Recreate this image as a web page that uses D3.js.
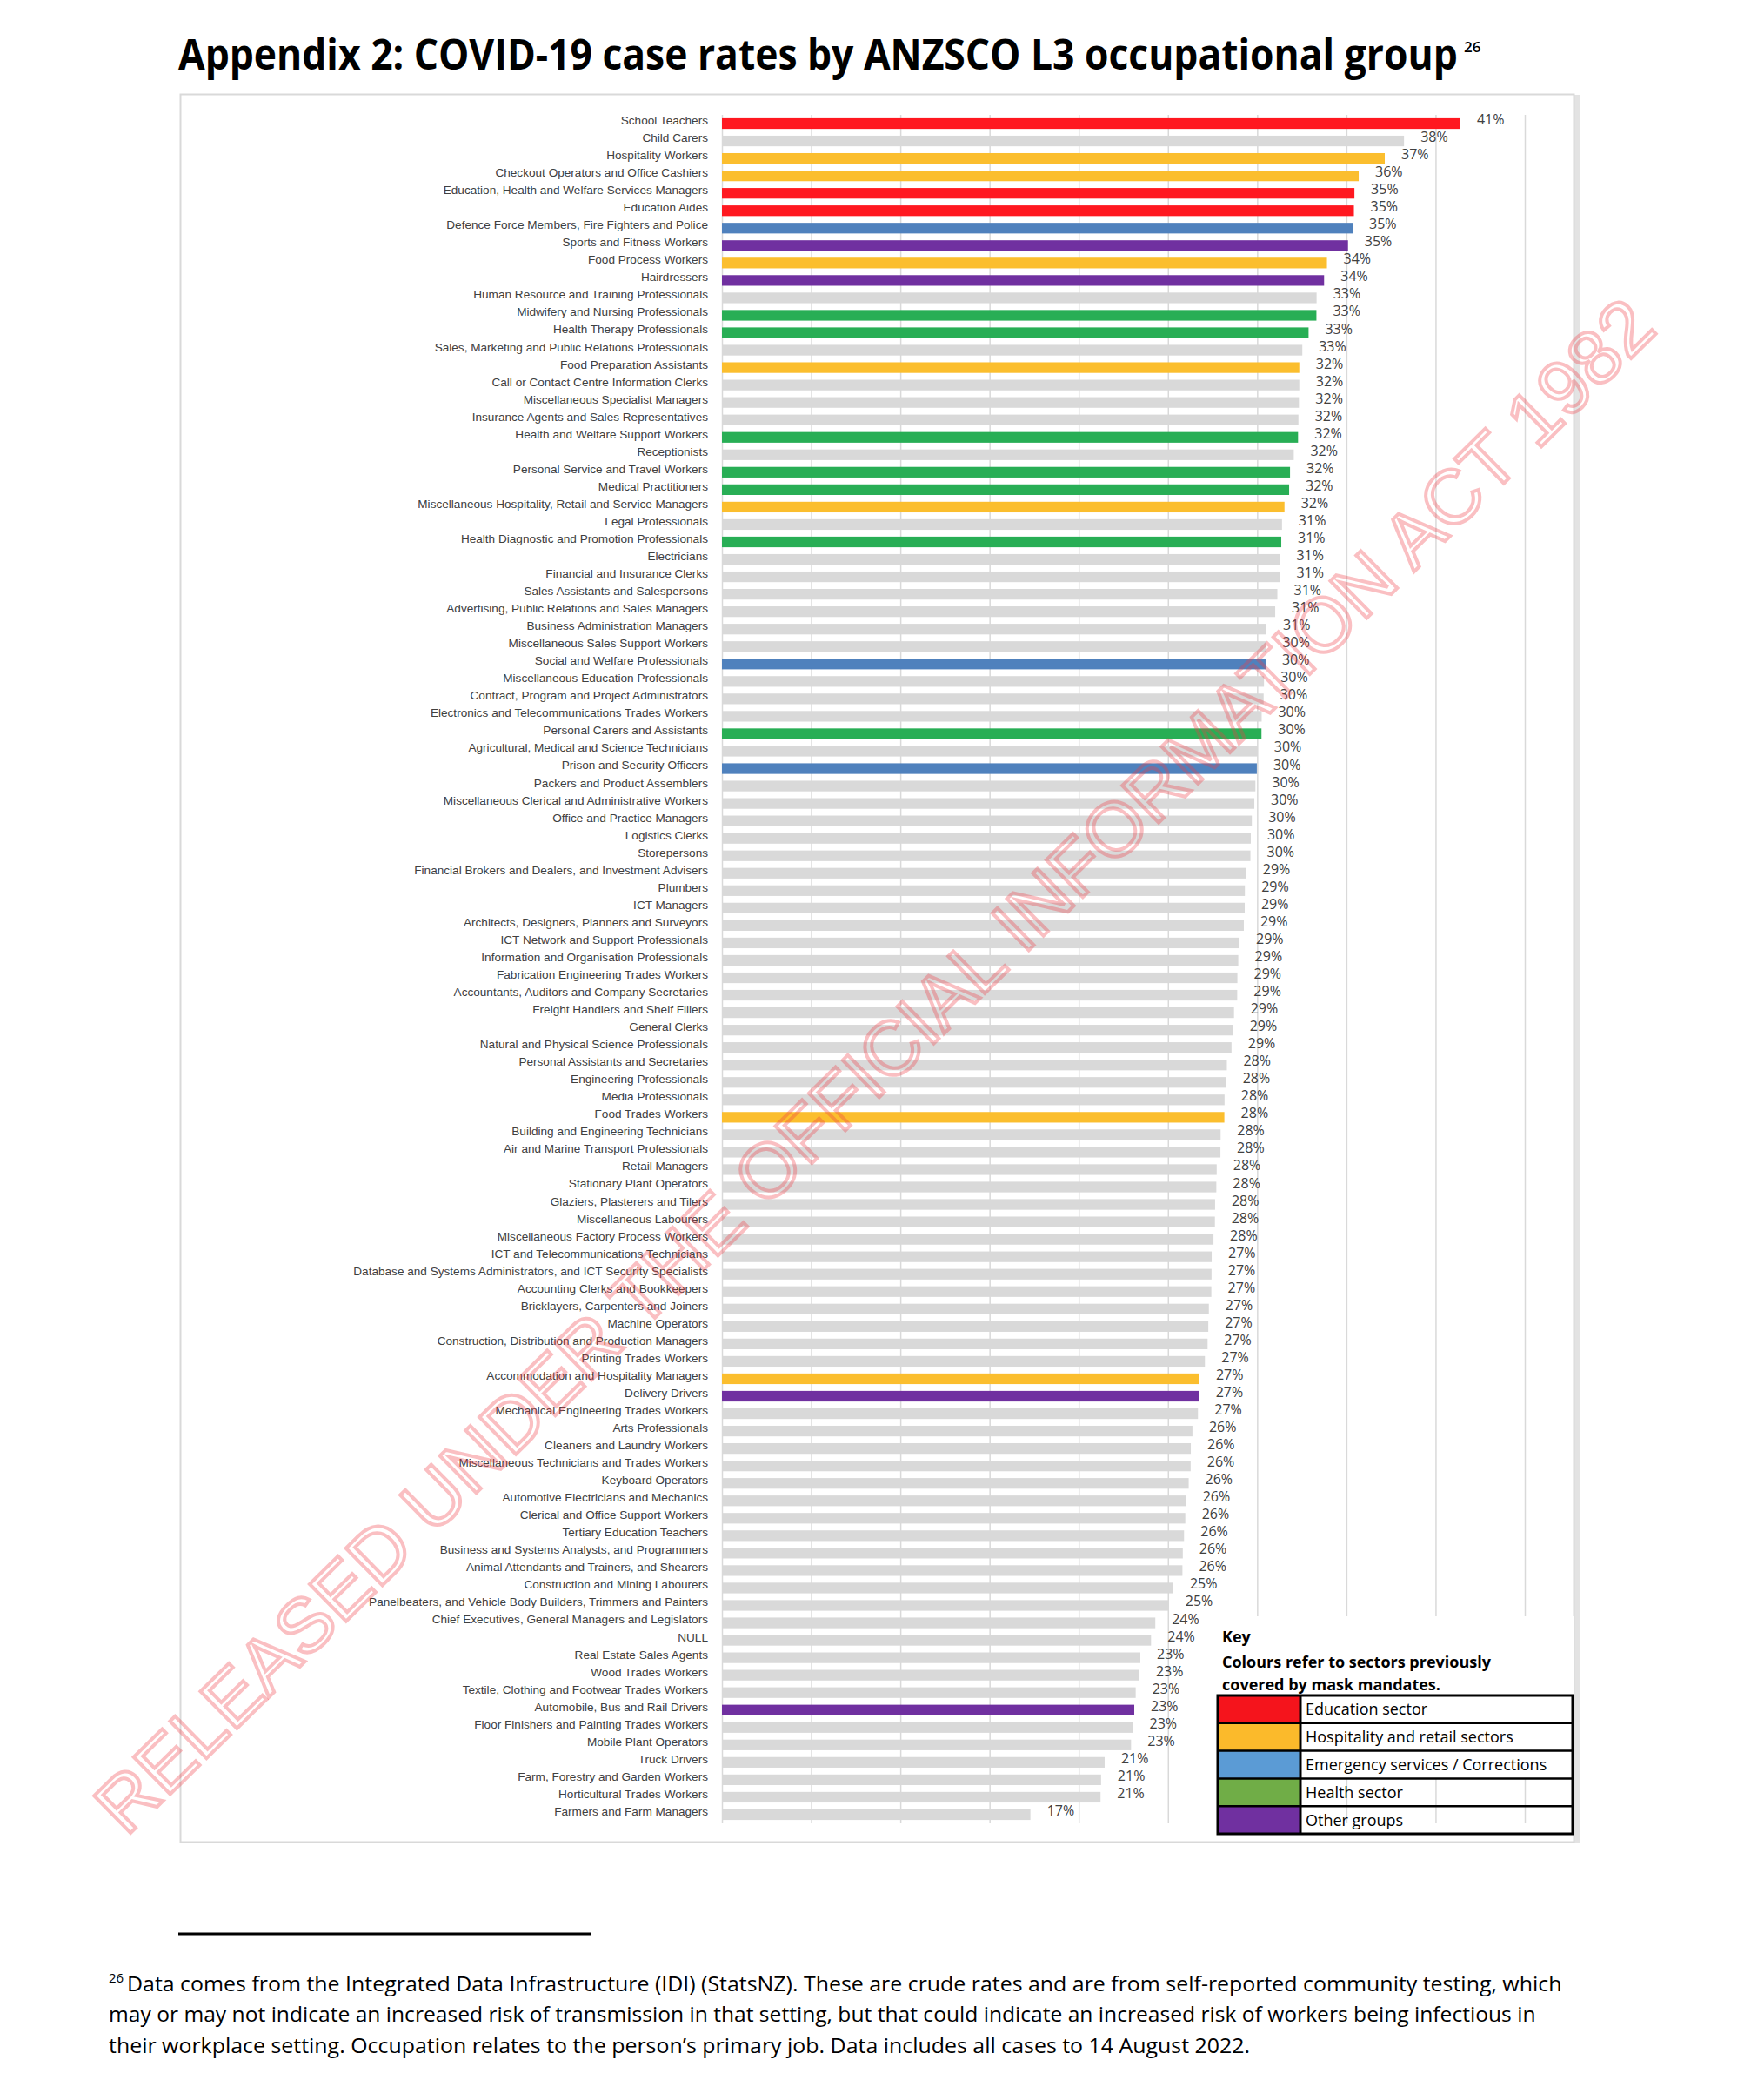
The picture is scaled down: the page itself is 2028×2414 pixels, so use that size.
<!DOCTYPE html>
<html><head><meta charset="utf-8">
<script src="https://cdn.jsdelivr.net/npm/d3@7"></script>
<style>body{margin:0;background:#fff;} svg{display:block}</style>
</head><body>
<svg id="chart" width="2028" height="2414"></svg>
<script>
const categories = [
"School Teachers","Child Carers","Hospitality Workers","Checkout Operators and Office Cashiers",
"Education, Health and Welfare Services Managers","Education Aides","Defence Force Members, Fire Fighters and Police",
"Sports and Fitness Workers","Food Process Workers","Hairdressers","Human Resource and Training Professionals",
"Midwifery and Nursing Professionals","Health Therapy Professionals","Sales, Marketing and Public Relations Professionals",
"Food Preparation Assistants","Call or Contact Centre Information Clerks","Miscellaneous Specialist Managers",
"Insurance Agents and Sales Representatives","Health and Welfare Support Workers","Receptionists",
"Personal Service and Travel Workers","Medical Practitioners","Miscellaneous Hospitality, Retail and Service Managers",
"Legal Professionals","Health Diagnostic and Promotion Professionals","Electricians","Financial and Insurance Clerks",
"Sales Assistants and Salespersons","Advertising, Public Relations and Sales Managers","Business Administration Managers",
"Miscellaneous Sales Support Workers","Social and Welfare Professionals","Miscellaneous Education Professionals",
"Contract, Program and Project Administrators","Electronics and Telecommunications Trades Workers",
"Personal Carers and Assistants","Agricultural, Medical and Science Technicians","Prison and Security Officers",
"Packers and Product Assemblers","Miscellaneous Clerical and Administrative Workers","Office and Practice Managers",
"Logistics Clerks","Storepersons","Financial Brokers and Dealers, and Investment Advisers","Plumbers","ICT Managers",
"Architects, Designers, Planners and Surveyors","ICT Network and Support Professionals",
"Information and Organisation Professionals","Fabrication Engineering Trades Workers",
"Accountants, Auditors and Company Secretaries","Freight Handlers and Shelf Fillers","General Clerks",
"Natural and Physical Science Professionals","Personal Assistants and Secretaries","Engineering Professionals",
"Media Professionals","Food Trades Workers","Building and Engineering Technicians","Air and Marine Transport Professionals",
"Retail Managers","Stationary Plant Operators","Glaziers, Plasterers and Tilers","Miscellaneous Labourers",
"Miscellaneous Factory Process Workers","ICT and Telecommunications Technicians",
"Database and Systems Administrators, and ICT Security Specialists","Accounting Clerks and Bookkeepers",
"Bricklayers, Carpenters and Joiners","Machine Operators","Construction, Distribution and Production Managers",
"Printing Trades Workers","Accommodation and Hospitality Managers","Delivery Drivers",
"Mechanical Engineering Trades Workers","Arts Professionals","Cleaners and Laundry Workers",
"Miscellaneous Technicians and Trades Workers","Keyboard Operators","Automotive Electricians and Mechanics",
"Clerical and Office Support Workers","Tertiary Education Teachers","Business and Systems Analysts, and Programmers",
"Animal Attendants and Trainers, and Shearers","Construction and Mining Labourers",
"Panelbeaters, and Vehicle Body Builders, Trimmers and Painters","Chief Executives, General Managers and Legislators",
"NULL","Real Estate Sales Agents","Wood Trades Workers","Textile, Clothing and Footwear Trades Workers",
"Automobile, Bus and Rail Drivers","Floor Finishers and Painting Trades Workers","Mobile Plant Operators",
"Truck Drivers","Farm, Forestry and Garden Workers","Horticultural Trades Workers","Farmers and Farm Managers"
];

const values = [
41.39, 38.23, 37.15, 35.69, 35.45, 35.42, 35.35, 35.09, 33.91, 33.75,
33.33, 33.32, 32.88, 32.53, 32.36, 32.36, 32.34, 32.31, 32.29, 32.05,
31.84, 31.79, 31.53, 31.39, 31.35, 31.27, 31.27, 31.13, 31.01, 30.52,
30.49, 30.47, 30.38, 30.36, 30.25, 30.24, 30.02, 29.98, 29.90, 29.84,
29.70, 29.64, 29.62, 29.39, 29.31, 29.30, 29.25, 29.01, 28.94, 28.89,
28.88, 28.70, 28.65, 28.56, 28.30, 28.26, 28.17, 28.16, 27.95, 27.94,
27.73, 27.71, 27.64, 27.63, 27.55, 27.45, 27.44, 27.43, 27.29, 27.26,
27.22, 27.07, 26.76, 26.75, 26.68, 26.37, 26.28, 26.27, 26.16, 26.02,
25.97, 25.90, 25.83, 25.81, 25.30, 25.05, 24.29, 24.05, 23.45, 23.40,
23.19, 23.11, 23.04, 22.93, 21.45, 21.25, 21.22, 17.29
];

const sectors = [
"edu","-","hosp","hosp","edu","edu","emer","other","hosp","other",
"-","health","health","-","hosp","-","-","-","health","-",
"health","health","hosp","-","health","-","-","-","-","-",
"-","emer","-","-","-","health","-","emer","-","-",
"-","-","-","-","-","-","-","-","-","-",
"-","-","-","-","-","-","-","hosp","-","-",
"-","-","-","-","-","-","-","-","-","-",
"-","-","hosp","other","-","-","-","-","-","-",
"-","-","-","-","-","-","-","-","-","-",
"-","other","-","-","-","-","-","-"
];

const gridTicks = [0,5,10,15,20,25,30,35,40,45];
const keyNames = ["Education sector","Hospitality and retail sectors","Emergency services / Corrections","Health sector","Other groups"];
const keyColors = ["#F5141C","#FBBA2B","#5B9BD5","#70AD47","#7030A0"];
const barColors = {"edu":"#FF1820","hosp":"#FBBE2E","emer":"#4F81BD","health":"#28AE55","other":"#7030A0","-":"#D9D9D9"};

const svg = d3.select("#chart");

// fit a text horizontally to a width with a scale transform (keeps bbox honest)
function fitText(sel, x0, y0, width){
  const w = sel.node().getComputedTextLength();
  sel.attr("x",0).attr("y",0).attr("transform",`translate(${x0},${y0}) scale(${width/w},1)`);
}

// title
const title = svg.append("text")
  .attr("font-family","'Open Sans', 'Noto Sans', sans-serif")
  .attr("font-weight",700).attr("font-size",48).attr("fill","#000")
  .text("Appendix 2: COVID-19 case rates by ANZSCO L3 occupational group");
fitText(title, 205, 80, 1471);
svg.append("text").attr("x",1683).attr("y",60)
  .attr("font-family","'Open Sans', sans-serif").attr("font-weight",600).attr("font-size",17).attr("fill","#000")
  .text("26");

// chart frame
svg.append("rect").attr("x",1810).attr("y",109).attr("width",6).attr("height",2010).attr("fill","#E3E3E3");
svg.append("rect").attr("x",207.5).attr("y",108.5).attr("width",1602).attr("height",2009)
  .attr("fill","#fff").attr("stroke","#D9D9D9").attr("stroke-width",2);

const plotTop = 132, plotBottom = 2096;
const x = d3.scaleLinear().domain([0,45]).range([830,1753]);
const y = d3.scaleBand().domain(categories).range([plotTop, plotBottom]).paddingInner(0.39).paddingOuter(0.195);

// gridlines
const grid = svg.append("g").attr("transform",`translate(0,${plotTop})`)
  .call(d3.axisTop(x).tickValues(gridTicks).tickSize(-(plotBottom-plotTop)).tickFormat(""));
grid.select(".domain").remove();
grid.selectAll(".tick line").attr("stroke","#D9D9D9").attr("stroke-width",1.5);

// y axis labels
const yAxis = svg.append("g").attr("transform","translate(830,0)")
  .call(d3.axisLeft(y).tickSize(0).tickPadding(16));
yAxis.select(".domain").remove();
yAxis.selectAll("text")
  .attr("font-family","'Liberation Sans', Arial, sans-serif")
  .attr("font-size",13.6).attr("fill","#404040").attr("dy","0.07em");

const rows = categories.map((c,i)=>({c, v: values[i], s: sectors[i]}));

// bars
svg.append("g").selectAll("rect").data(rows).join("rect")
  .attr("x",x(0)).attr("y",d=>y(d.c))
  .attr("width",d=>x(d.v)-x(0)).attr("height",y.bandwidth())
  .attr("fill",d=>barColors[d.s]);

// data labels
svg.append("g").selectAll("text").data(rows).join("text")
  .attr("x",d=>x(d.v)+19).attr("y",d=>y(d.c)+y.bandwidth()/2+1)
  .attr("font-family","'Open Sans', sans-serif").attr("font-size",16).attr("fill","#404040")
  .text(d=>Math.round(d.v)+"%");

// key
const key = svg.append("g");
key.append("rect").attr("x",1392).attr("y",1858).attr("width",417).attr("height",187).attr("fill","#fff");
const kf = "'Open Sans', sans-serif";
key.append("text").attr("x",1405).attr("y",1888).attr("font-family",kf).attr("font-weight",700).attr("font-size",18).text("Key");
key.append("text").attr("x",1405).attr("y",1917).attr("font-family",kf).attr("font-weight",700).attr("font-size",18).text("Colours refer to sectors previously");
key.append("text").attr("x",1405).attr("y",1943).attr("font-family",kf).attr("font-weight",700).attr("font-size",18).text("covered by mask mandates.");
const tX=1400, tY=1949, tW=408, rowH=31.8, swW=95;
keyNames.forEach((n,i)=>{
  key.append("rect").attr("x",tX).attr("y",tY+i*rowH).attr("width",swW).attr("height",rowH).attr("fill",keyColors[i]);
  key.append("text").attr("x",tX+swW+6).attr("y",tY+i*rowH+rowH/2+6.5)
    .attr("font-family",kf).attr("font-size",18).attr("fill","#000").text(n);
  if(i>0) key.append("line").attr("x1",tX).attr("x2",tX+tW).attr("y1",tY+i*rowH).attr("y2",tY+i*rowH)
    .attr("stroke","#000").attr("stroke-width",2.5);
});
key.append("line").attr("x1",tX+swW).attr("x2",tX+swW).attr("y1",tY).attr("y2",tY+5*rowH).attr("stroke","#000").attr("stroke-width",3);
key.append("rect").attr("x",tX).attr("y",tY).attr("width",tW).attr("height",5*rowH)
  .attr("fill","none").attr("stroke","#000").attr("stroke-width",3);

// footnote
svg.append("line").attr("x1",205).attr("x2",679).attr("y1",2223).attr("y2",2223).attr("stroke","#000").attr("stroke-width",3);
const ff = "'Open Sans', sans-serif";
svg.append("text").attr("x",125).attr("y",2279).attr("font-family",ff).attr("font-size",15).text("26");
const foot = [
 {t:"Data comes from the Integrated Data Infrastructure (IDI) (StatsNZ). These are crude rates and are from self-reported community testing, which", x:146, y:2289, w:1650},
 {t:"may or may not indicate an increased risk of transmission in that setting, but that could indicate an increased risk of workers being infectious in", x:125, y:2324, w:1641},
 {t:"their workplace setting. Occupation relates to the person\u2019s primary job. Data includes all cases to 14 August 2022.", x:125, y:2360, w:1313}
];
foot.forEach(f=>{
  const t = svg.append("text").attr("font-family",ff).attr("font-size",23).attr("fill","#000").text(f.t);
  fitText(t, f.x, f.y, f.w);
});

// watermark
svg.append("g").attr("transform","translate(1004,1224) rotate(-44.5)")
  .append("text").attr("text-anchor","middle").attr("dy","0.36em")
  .attr("font-family","'Liberation Sans', Arial, sans-serif").attr("font-size",87)
  .attr("fill","none").attr("stroke","rgba(240,60,70,0.33)").attr("stroke-width",4)
  .attr("textLength",2470).attr("lengthAdjust","spacingAndGlyphs")
  .text("RELEASED UNDER THE OFFICIAL INFORMATION ACT 1982");
</script>
</body></html>
